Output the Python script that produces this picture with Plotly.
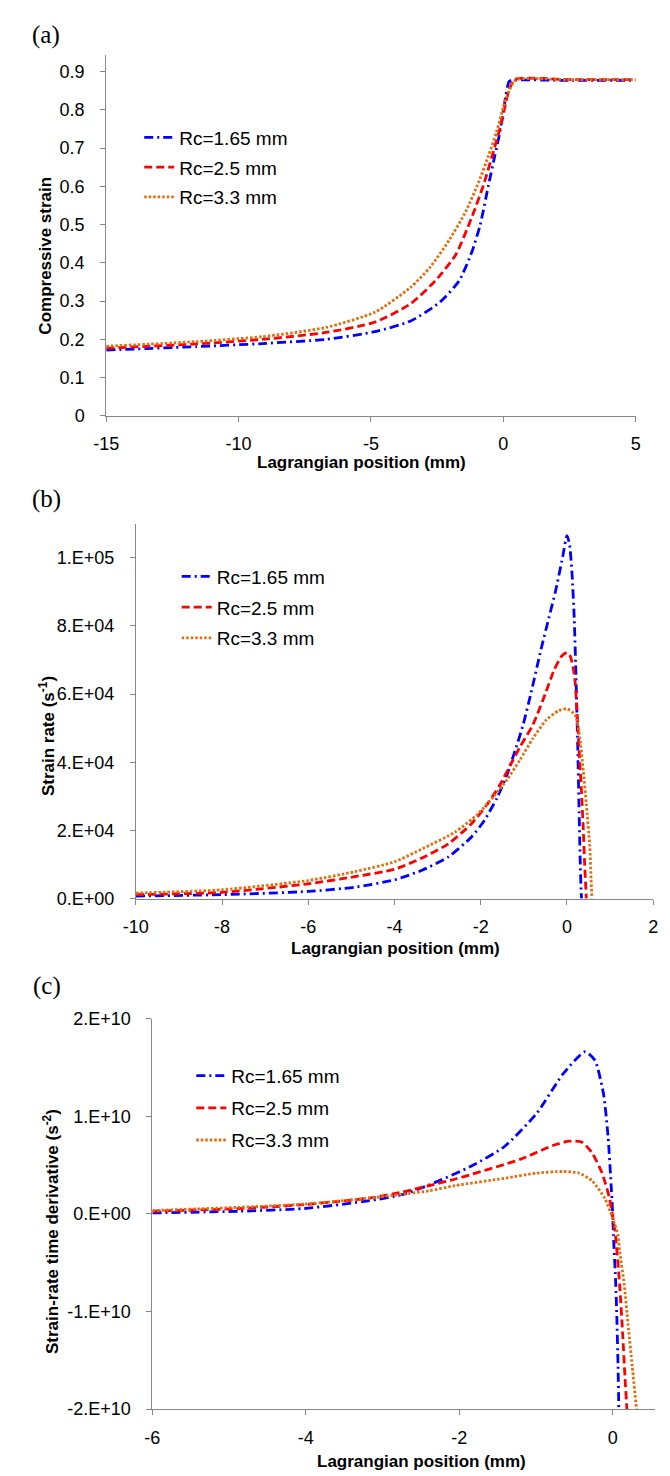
import plotly.graph_objects as go

W, H = 670, 1476

SERIES = ["Rc=1.65 mm", "Rc=2.5 mm", "Rc=3.3 mm"]
COLORS = ["#0000FF", "#FF0000", "#E46C0A"]
DASHES = ["9px,4px,2px,4px", "8px,4px", "2.5px,2px"]

# ---------------- Panel (a): compressive strain ----------------
a_x_165 = [-15, -11.6, -9.1, -6.7, -4.85, -3.5, -2.4, -1.67, -1.18, -0.87, -0.56, -0.32, -0.13, 0.05, 0.21, 0.3, 2.5, 5]
a_y_165 = [0.172, 0.181, 0.189, 0.2, 0.22, 0.248, 0.297, 0.353, 0.43, 0.5, 0.603, 0.68, 0.741, 0.818, 0.873, 0.877, 0.877, 0.877]
a_x_25 = [-15, -11.6, -9.1, -6.7, -4.85, -3.5, -2.52, -1.79, -1.18, -0.75, -0.38, -0.07, 0.17, 0.42, 2.5, 5]
a_y_25 = [0.177, 0.188, 0.2, 0.218, 0.245, 0.293, 0.357, 0.422, 0.521, 0.603, 0.689, 0.766, 0.84, 0.879, 0.879, 0.879]
a_x_33 = [-15, -11.6, -9.1, -6.7, -4.85, -3.5, -2.77, -2.03, -1.42, -0.93, -0.56, -0.26, 0.05, 0.29, 0.48, 2.5, 5]
a_y_33 = [0.182, 0.194, 0.207, 0.231, 0.271, 0.336, 0.388, 0.461, 0.534, 0.611, 0.68, 0.741, 0.818, 0.861, 0.879, 0.879, 0.879]

a_xticks = [-15, -10, -5, 0, 5]
a_xticktext = ["-15", "-10", "-5", "0", "5"]
a_yticks = [0, 0.1, 0.2, 0.3, 0.4, 0.5, 0.6, 0.7, 0.8, 0.9]
a_yticktext = ["0", "0.1", "0.2", "0.3", "0.4", "0.5", "0.6", "0.7", "0.8", "0.9"]

# ---------------- Panel (b): strain rate ----------------
b_x_165 = [-10, -8, -6, -4.92, -4, -3.35, -2.75, -2.22, -1.92, -1.62, -1.39, -1.21, -1.02, -0.83, -0.6, -0.41, -0.26, -0.1, 0,
           0.06, 0.12, 0.17, 0.21, 0.25, 0.28, 0.31, 0.33, 0.34]
b_y_165 = [750, 1160, 2110, 3360, 5500, 8390, 12240, 18030, 22860, 29600, 36350, 43130, 50820, 60490, 73200, 82800, 90500, 100200, 106500,
           104000, 95000, 82000, 65000, 45000, 27000, 10000, 2000, 0]
b_x_25 = [-10, -8, -6, -4.92, -4, -3.35, -2.75, -2.22, -1.85, -1.55, -1.32, -1.09, -0.79, -0.49, -0.3, -0.12, 0,
          0.075, 0.15, 0.19, 0.226, 0.26, 0.3, 0.34, 0.38, 0.41, 0.45]
b_y_25 = [1160, 1830, 4340, 6450, 8620, 12000, 16090, 21880, 27670, 33460, 39000, 44500, 51000, 60500, 67000, 71200, 72200,
          71200, 67400, 63500, 56800, 49000, 39400, 30700, 20100, 10400, 0]
b_x_33 = [-10, -8, -6, -4.92, -4, -3.35, -2.6, -2.07, -1.69, -1.39, -1.09, -0.79, -0.49, -0.19, 0,
          0.19, 0.3, 0.38, 0.45, 0.53, 0.56, 0.58]
b_y_33 = [1620, 2600, 5300, 7900, 10800, 14650, 19480, 24780, 30100, 34900, 40700, 46980, 52270, 55170, 55700,
          53900, 47100, 37500, 27800, 15300, 5600, 0]

b_xticks = [-10, -8, -6, -4, -2, 0, 2]
b_xticktext = ["-10", "-8", "-6", "-4", "-2", "0", "2"]
b_yticks = [0, 20000, 40000, 60000, 80000, 100000]
b_yticktext = ["0.E+00", "2.E+04", "4.E+04", "6.E+04", "8.E+04", "1.E+05"]

# ---------------- Panel (c): strain-rate time derivative ----------------
c_x_165 = [-6, -4.87, -4.02, -3.17, -2.75, -2.39, -1.84, -1.41, -0.99, -0.65, -0.36, -0.23, -0.12, -0.06, -0.02, 0,
           0.01, 0.04, 0.054, 0.07, 0.08, 0.09]
c_y_165 = [0.01e10, 0.027e10, 0.055e10, 0.135e10, 0.196e10, 0.297e10, 0.49e10, 0.69e10, 1.03e10, 1.43e10, 1.66e10, 1.57e10, 1.23e10, 0.79e10, 0.29e10, 0,
           -0.22e10, -0.72e10, -1.06e10, -1.56e10, -2.0e10, -2.3e10]
c_x_25 = [-6, -4.87, -4.02, -3.17, -2.75, -2.39, -2.05, -1.2, -0.78, -0.57, -0.4, -0.27, -0.14, -0.04,
          0.025, 0.04, 0.09, 0.13, 0.16, 0.185, 0.195]
c_y_25 = [0.027e10, 0.054e10, 0.095e10, 0.162e10, 0.222e10, 0.29e10, 0.357e10, 0.56e10, 0.70e10, 0.744e10, 0.734e10, 0.626e10, 0.42e10, 0.155e10,
          -0.15e10, -0.25e10, -0.72e10, -1.23e10, -1.67e10, -2.0e10, -2.2e10]
c_x_33 = [-6, -4.87, -4.02, -3.17, -2.75, -2.39, -2.05, -1.41, -0.99, -0.65, -0.44, -0.27, -0.1, 0,
          0.07, 0.09, 0.15, 0.2, 0.255, 0.31, 0.33]
c_y_33 = [0.034e10, 0.067e10, 0.1e10, 0.162e10, 0.2e10, 0.236e10, 0.29e10, 0.364e10, 0.418e10, 0.434e10, 0.418e10, 0.34e10, 0.155e10, -0.047e10,
          -0.22e10, -0.38e10, -0.72e10, -1.13e10, -1.56e10, -2.0e10, -2.2e10]

c_xticks = [-6, -4, -2, 0]
c_xticktext = ["-6", "-4", "-2", "0"]
c_yticks = [-2e10, -1e10, 0, 1e10, 2e10]
c_yticktext = ["-2.E+10", "-1.E+10", "0.E+00", "1.E+10", "2.E+10"]

FONT = "Liberation Sans, Arial, sans-serif"
AXIS_GRAY = "#868686"


def px_x(p):
    return p / W


def px_y(p):
    return 1 - p / H


fig = go.Figure()

panels = [
    ("x", "y", "legend", [(a_x_165, a_y_165), (a_x_25, a_y_25), (a_x_33, a_y_33)]),
    ("x2", "y2", "legend2", [(b_x_165, b_y_165), (b_x_25, b_y_25), (b_x_33, b_y_33)]),
    ("x3", "y3", "legend3", [(c_x_165, c_y_165), (c_x_25, c_y_25), (c_x_33, c_y_33)]),
]

for xa, ya, leg, data in panels:
    for i, (xs, ys) in enumerate(data):
        fig.add_trace(go.Scatter(
            x=xs, y=ys, mode="lines", name=SERIES[i],
            line=dict(color=COLORS[i], width=2.8, dash=DASHES[i], shape="spline", smoothing=0.6),
            xaxis=xa, yaxis=ya, legend=leg, legendgroup=leg + str(i),
        ))

common_axis = dict(
    showline=True, linecolor=AXIS_GRAY, linewidth=1,
    ticks="outside", tickcolor=AXIS_GRAY, ticklen=5, tickwidth=1,
    showgrid=False, zeroline=False,
    tickfont=dict(family=FONT, size=18, color="#000000"),
)

fig.update_layout(
    width=W, height=H,
    margin=dict(l=0, r=0, t=0, b=0),
    paper_bgcolor="white", plot_bgcolor="white",
    showlegend=True,
    # panel (a)
    xaxis=dict(common_axis, domain=[px_x(87.6), px_x(631.6)], range=[-15, 5], tickvals=a_xticks,
               ticktext=a_xticktext, anchor="y", ticklabelstandoff=7),
    yaxis=dict(common_axis, domain=[px_y(403.3), px_y(37.3)], range=[0, 0.944], tickvals=a_yticks,
               ticktext=a_yticktext, anchor="x", ticklabelstandoff=12),
    # panel (b)
    xaxis2=dict(common_axis, domain=[px_x(118), px_x(649.6)], range=[-10, 2], tickvals=b_xticks,
                ticktext=b_xticktext, anchor="y2", ticklabelstandoff=7),
    yaxis2=dict(common_axis, domain=[px_y(892.7), px_y(512.7)], range=[0, 110000], tickvals=b_yticks,
                ticktext=b_yticktext, anchor="x2", ticklabelstandoff=12),
    # panel (c)
    xaxis3=dict(common_axis, domain=[px_x(135), px_x(651.7)], range=[-6, 0.554], tickvals=c_xticks,
                ticktext=c_xticktext, anchor="y3", ticklabelstandoff=7),
    yaxis3=dict(common_axis, domain=[px_y(1410.3), px_y(1014.3)], range=[-2e10, 2e10], tickvals=c_yticks,
                ticktext=c_yticktext, anchor="x3", ticklabelstandoff=12),
    legend=dict(x=px_x(121.5), y=px_y(102), xanchor="left", yanchor="top", bgcolor="rgba(0,0,0,0)",
                font=dict(family=FONT, size=19, color="#000000"), tracegroupgap=2, itemwidth=30),
    legend2=dict(x=px_x(160), y=px_y(547), xanchor="left", yanchor="top", bgcolor="rgba(0,0,0,0)",
                 font=dict(family=FONT, size=19, color="#000000"), tracegroupgap=3, itemwidth=30),
    legend3=dict(x=px_x(175), y=px_y(1053), xanchor="left", yanchor="top", bgcolor="rgba(0,0,0,0)",
                 font=dict(family=FONT, size=19, color="#000000"), tracegroupgap=4.5, itemwidth=30),
)

title_font = dict(family=FONT, size=17, color="#000000")
label_font = dict(family="Liberation Serif, Times New Roman, serif", size=25, color="#000000")

annotations = [
    # x-axis titles
    dict(text="<b>Lagrangian position (mm)</b>", x=px_x(350), y=px_y(451), font=title_font),
    dict(text="<b>Lagrangian position (mm)</b>", x=px_x(384.6), y=px_y(943), font=title_font),
    dict(text="<b>Lagrangian position (mm)</b>", x=px_x(411.3), y=px_y(1463), font=title_font),
    # y-axis titles
    dict(text="<b>Compressive strain</b>", x=px_x(25.6), y=px_y(241), font=title_font, textangle=-90),
    dict(text="<b>Strain rate (s<sup>-1</sup>)</b>", x=px_x(26.7), y=px_y(728), font=title_font, textangle=-90),
    dict(text="<b>Strain-rate time derivative (s<sup>-2</sup>)</b>", x=px_x(31), y=px_y(1230.5), font=title_font, textangle=-90),
    # panel labels
    dict(text="(a)", x=px_x(26), y=px_y(17), font=label_font),
    dict(text="(b)", x=px_x(26.7), y=px_y(488), font=label_font),
    dict(text="(c)", x=px_x(26.7), y=px_y(981), font=label_font),
]
for ann in annotations:
    ann.update(xref="paper", yref="paper", xanchor="center", yanchor="middle", showarrow=False)
fig.update_layout(annotations=annotations)

fig.write_html("out.html")
